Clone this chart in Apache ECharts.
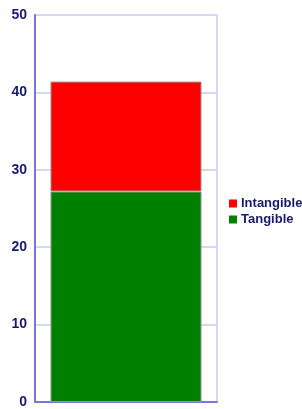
<!DOCTYPE html>
<html>
<head>
<meta charset="UTF-8">
<script src="https://cdn.jsdelivr.net/npm/echarts@6/dist/echarts.min.js"></script>
<style>
body { margin: 0; padding: 0; background: #fff; }
#main { width: 302px; height: 409px; }
</style>
</head>
<body>
<div id="main"></div>
<script>
var categories = [''];
var tangible = [27.2];
var intangible = [14.2];
var yTicks = [0, 10, 20, 30, 40, 50];

var chart = echarts.init(document.getElementById('main'));
var option = {
    animation: false,
    grid: { left: 35, right: 85, top: 15, bottom: 3 },
    legend: {
        orient: 'vertical',
        left: 224, top: 192,
        itemWidth: 8, itemHeight: 8, itemGap: 3,
        icon: 'rect',
        data: ['Intangible', 'Tangible'],
        itemStyle: { borderWidth: 0 },
        textStyle: { color: '#1a1a6e', fontWeight: 'bold', fontSize: 13, fontFamily: 'Liberation Sans', padding: [0, 0, 0, -1] }
    },
    xAxis: {
        type: 'category',
        data: categories,
        axisLine: { lineStyle: { color: '#7777dd', width: 2 } },
        axisTick: { show: false },
        axisLabel: { show: false },
        splitLine: { show: true, lineStyle: { color: '#d6d6f2', width: 2 } }
    },
    yAxis: {
        type: 'value',
        min: yTicks[0], max: yTicks[yTicks.length - 1], interval: 10,
        axisLine: { show: true, lineStyle: { color: '#7777dd', width: 2 } },
        axisTick: { show: false },
        axisLabel: { color: '#1a1a6e', fontWeight: 'bold', fontSize: 14, fontFamily: 'Liberation Sans', margin: 8 },
        splitLine: { lineStyle: { color: '#d6d6f2', width: 2 } }
    },
    series: [
        {
            name: 'Tangible', type: 'bar', stack: 'a', data: tangible,
            barWidth: '83%',
            itemStyle: { color: '#008000', borderColor: '#999', borderWidth: 1 }
        },
        {
            name: 'Intangible', type: 'bar', stack: 'a', data: intangible,
            itemStyle: { color: '#ff0000', borderColor: '#999', borderWidth: 1 }
        }
    ]
};
chart.setOption(option);
</script>
</body>
</html>
